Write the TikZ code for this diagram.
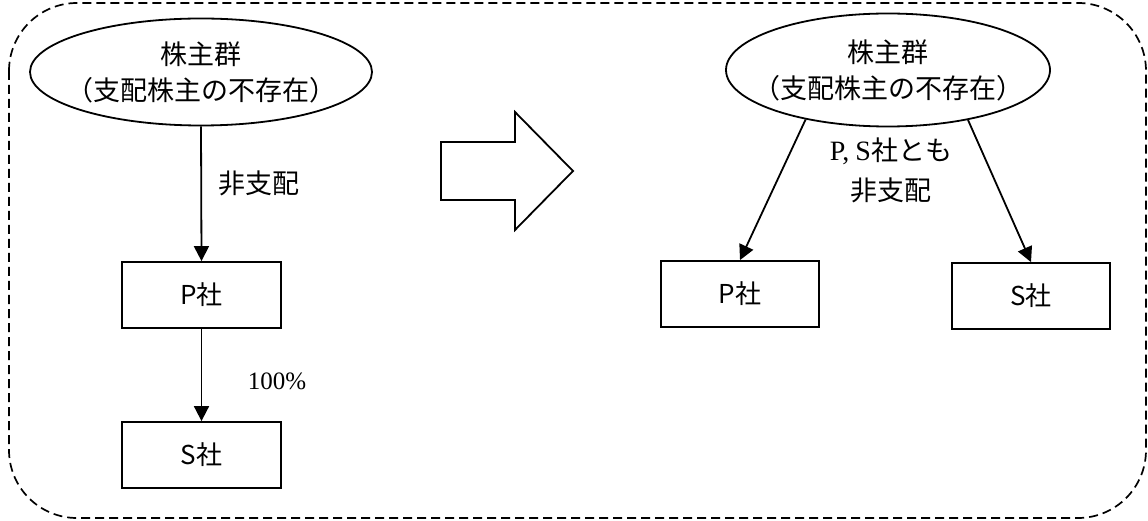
\documentclass[tikz,border=0pt]{standalone}
\usepackage{fontspec}
\setmainfont{Liberation Serif}
\newfontfamily\jp{Noto Sans CJK JP}
\usetikzlibrary{shapes.geometric,arrows.meta}
\begin{document}
\begin{tikzpicture}[x=1pt,y=-1pt,
  ell/.style={draw,line width=1.8pt,ellipse,inner sep=0pt},
  elltext/.style={inner sep=0pt,align=center,font=\jp\fontsize{27}{36}\selectfont},
  box/.style={draw,line width=1.8pt,inner sep=0pt,minimum width=159pt,minimum height=66pt,font=\jp\fontsize{26}{28}\selectfont},
  conn/.style={line width=1.8pt,-{Triangle[length=15pt,width=15pt]}},
  lab/.style={font=\jp\fontsize{27}{40}\selectfont,align=center,inner sep=0pt}]
\useasboundingbox (0,0) rectangle (1148,521);
\draw[line width=1.7pt,dash pattern=on 9pt off 5pt,rounded corners=68pt] (9,3) rectangle (1146,518);
% left side
\node[ell,minimum width=342pt,minimum height=107pt] (le) at (201,72) {};
\node[elltext] (let) at (le.center) {株主群\\（支配株主の不存在）};
\node[box] (lp) at (201.5,295) {P社};
\node[box] (ls) at (201.5,455) {S社};
\draw[conn] (le.south) -- (lp.north);
\draw[conn] (lp.south) -- (ls.north);
\node[lab] (l1) at (259,183) {非支配};
\node[font=\fontsize{25}{28}\selectfont,inner sep=0pt] (l2) at (277,381) {100\%};
% big arrow
\draw[line width=1.8pt,line join=miter] (441,142) -- (515,142) -- (515,112) -- (573,171) -- (515,230) -- (515,200) -- (441,200) -- cycle;
% right side
\node[ell,minimum width=324pt,minimum height=113pt] (re) at (888,70) {};
\node[elltext] (ret) at (re.center) {株主群\\（支配株主の不存在）};
\node[box,minimum width=158pt] (rp) at (740,294) {P社};
\node[box,minimum width=158pt] (rs) at (1031,296) {S社};
\draw[conn] (re.211) -- (rp.north);
\draw[conn] (re.328) -- (rs.north);
\node[lab] (l3) at (891,170) {{\rmfamily\fontsize{28}{40}\selectfont P,\hspace{6pt}S}社とも\\非支配};
\end{tikzpicture}
\end{document}
